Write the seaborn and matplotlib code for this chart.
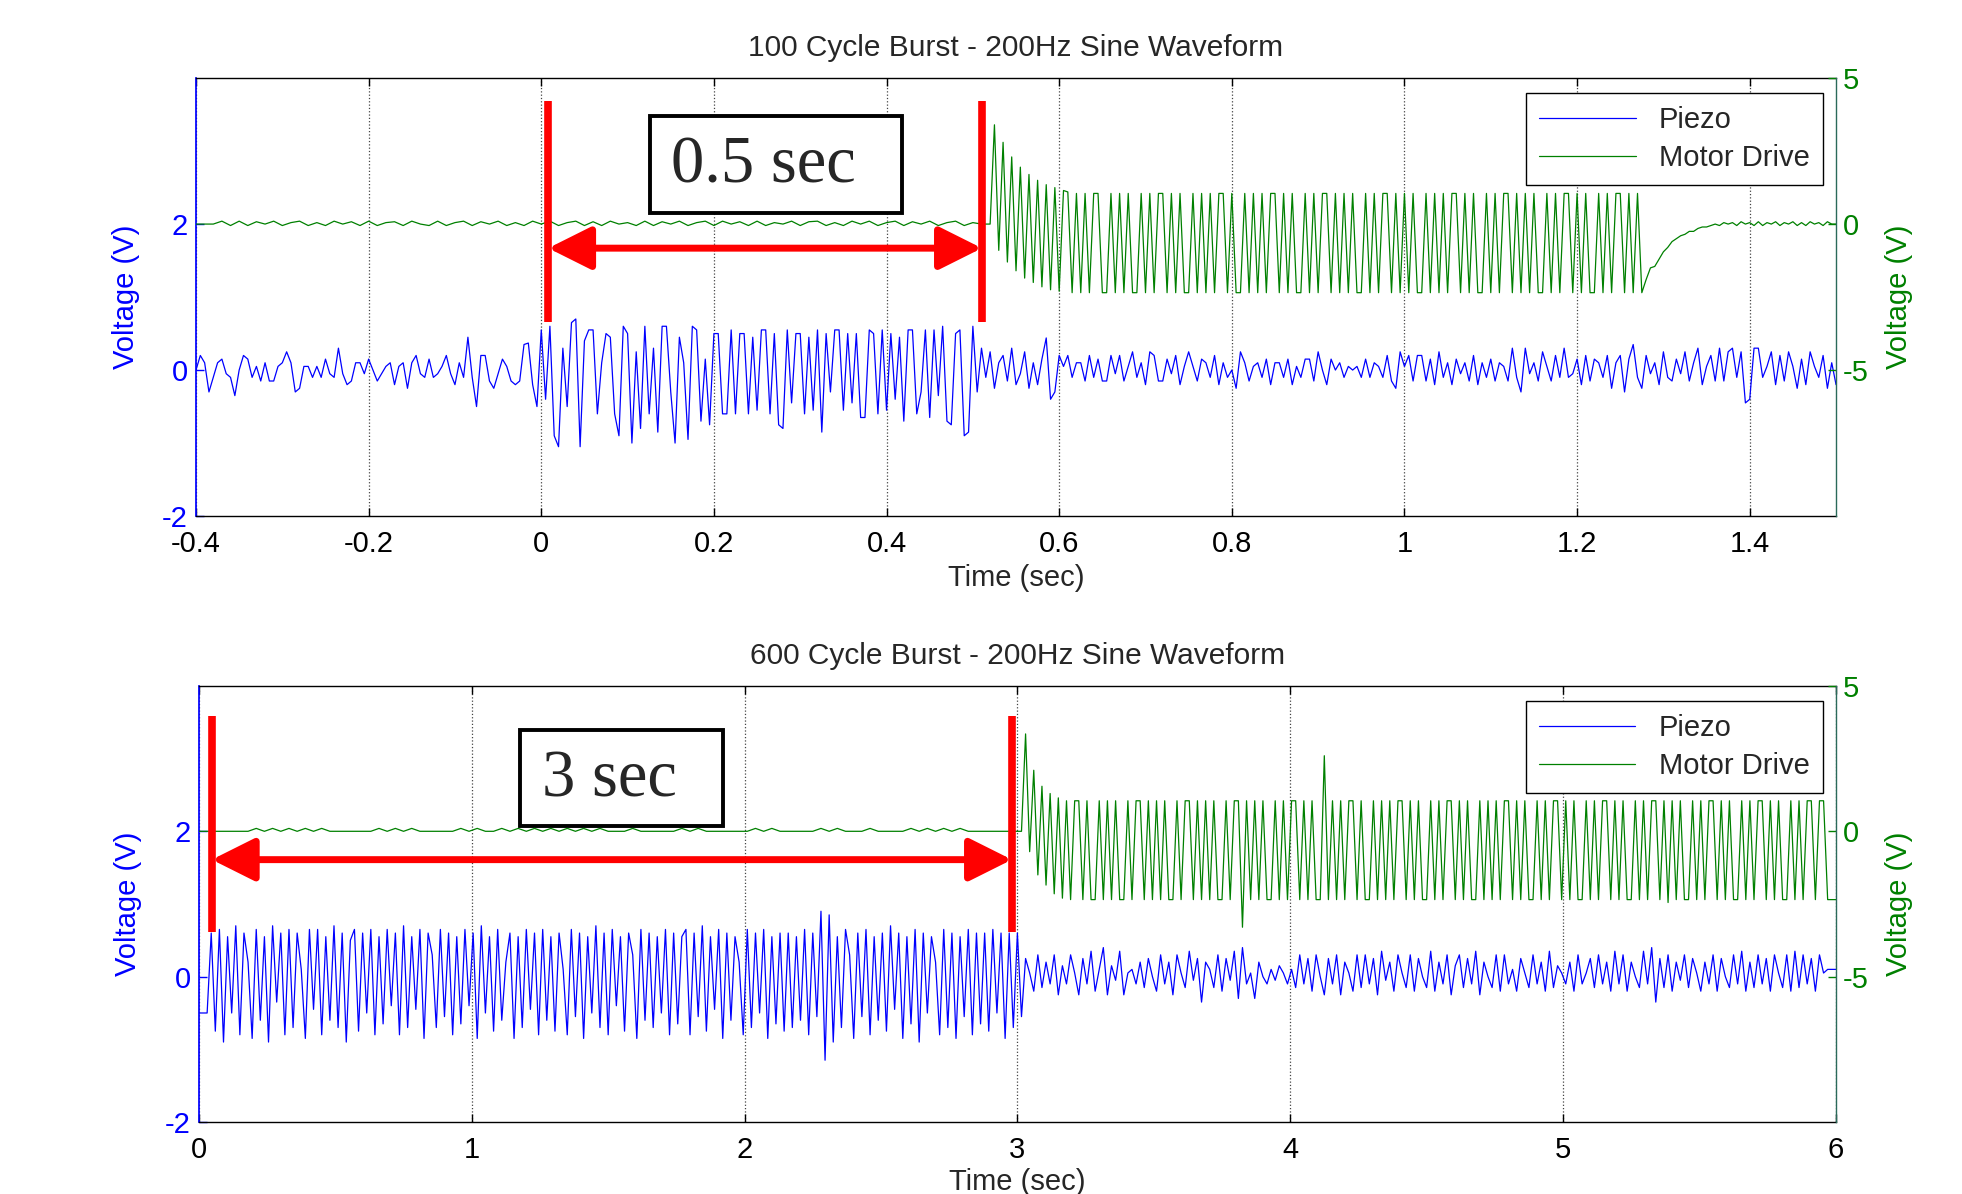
import numpy as np
import pandas as pd
import matplotlib
matplotlib.use("Agg")
import matplotlib.pyplot as plt
from matplotlib.lines import Line2D
from matplotlib.patches import Rectangle
import seaborn as sns

# ==========================================
# DATA
# ==========================================
# --- 100 cycle burst (top) ---
piezo_top_pre = [
    0.0, 0.2, 0.1, -0.3, -0.1, 0.1, 0.15, -0.05, -0.1, -0.35,
    0.0, 0.2, 0.15, -0.1, 0.05, -0.15, 0.1, -0.15, -0.15, 0.05,
    0.1, 0.25, 0.1, -0.3, -0.25, 0.05, 0.05, -0.1, 0.05, -0.1,
    0.15, -0.05, -0.1, 0.3, -0.05, -0.2, -0.15, 0.1, 0.1, -0.05,
    0.15, 0.0, -0.15, -0.05, 0.05, 0.1, -0.2, 0.05, 0.1, -0.25,
    0.1, 0.2, -0.05, -0.1, 0.15, -0.1, -0.05, 0.05, 0.2, -0.05,
    -0.2, 0.1, -0.1, 0.45, -0.1, -0.5, 0.2, 0.2, -0.15, -0.25,
    -0.05, 0.15, 0.05, -0.15, -0.2, -0.15, 0.35, 0.37, -0.2, -0.5]
piezo_top_burst = [
    0.55, -0.4, 0.6, -0.9, -1.05, 0.3, -0.5, 0.65, 0.7, -1.05,
    0.4, 0.55, 0.55, -0.6, 0.1, 0.5, 0.45, -0.6, -0.9, 0.6,
    0.5, -1.0, 0.25, -0.8, 0.6, -0.6, 0.3, -0.85, 0.6, 0.6,
    -0.3, -1.0, 0.45, 0.1, -0.95, 0.6, 0.55, -0.7, 0.15, -0.75,
    0.5, 0.5, -0.6, -0.6, 0.55, -0.6, 0.5, 0.5, -0.6, 0.45,
    -0.55, 0.55, 0.55, -0.6, 0.5, -0.75, -0.8, 0.55, -0.45, 0.5,
    0.5, -0.6, 0.45, -0.55, 0.55, -0.85, 0.5, -0.3, 0.55, 0.55,
    -0.55, 0.5, -0.45, 0.5, -0.65, -0.65, 0.55, 0.5, -0.6, 0.55,
    -0.55, 0.5, -0.4, 0.45, -0.7, 0.55, 0.55, -0.6, -0.3, 0.55,
    -0.65, 0.55, -0.35, 0.6, -0.7, -0.75, 0.5, 0.55, -0.9, -0.85,
    0.6, -0.3]
piezo_top_post = [
    0.3, -0.1, 0.25, -0.25, 0.1, 0.2, -0.15, 0.3, -0.2, -0.05,
    0.25, -0.25, 0.1, -0.2, 0.15, 0.44, -0.4, -0.3, 0.2, 0.05,
    0.2, -0.1, 0.1, 0.1, -0.15, 0.2, -0.1, 0.15, -0.15, -0.15,
    0.2, -0.05, 0.2, -0.15, 0.05, 0.25, -0.1, 0.1, -0.2, 0.25,
    0.2, -0.15, -0.15, 0.15, -0.05, 0.2, -0.2, 0.05, 0.25, 0.05,
    -0.15, 0.15, 0.1, -0.1, 0.2, -0.2, 0.1, -0.1, 0.0, -0.25,
    0.25, 0.1, -0.15, 0.05, 0.1, -0.1, 0.15, -0.2, 0.1, 0.1,
    -0.1, 0.15, -0.2, 0.05, -0.1, 0.15, 0.15, -0.15, 0.25, 0.0,
    -0.2, 0.15, 0.0, 0.1, -0.1, 0.05, 0.0, 0.05, -0.1, 0.15,
    -0.1, 0.1, 0.05, -0.1, 0.2, -0.15, -0.25, 0.25, 0.05, 0.2,
    -0.15, 0.2, 0.2, -0.15, 0.15, -0.2, 0.25, -0.1, 0.1, -0.2,
    0.15, -0.05, 0.1, -0.15, 0.2, -0.2, 0.1, -0.1, 0.15, -0.15,
    0.1, 0.05, -0.15, 0.3, -0.1, -0.3, 0.3, -0.05, 0.1, -0.15,
    0.25, 0.05, -0.15, 0.2, -0.1, 0.3, -0.1, -0.05, 0.15, -0.2,
    0.2, -0.15, 0.15, 0.1, -0.1, 0.2, -0.25, 0.1, 0.2, -0.3,
    0.15, 0.35, -0.1, -0.25, 0.2, -0.05, 0.1, -0.2, 0.25, -0.1,
    -0.15, 0.15, -0.05, 0.25, -0.15, 0.1, 0.3, -0.2, 0.05, 0.2,
    -0.15, 0.3, -0.15, 0.25, 0.3, -0.1, 0.25, -0.45, -0.4, 0.3,
    0.3, -0.1, 0.05, 0.25, -0.2, 0.2, -0.15, 0.25, 0.05, -0.25,
    0.15, -0.2, 0.25, 0.05, -0.1, 0.2, -0.25, 0.1, -0.2]

motor_top_idle = [
    0.0, 0.0, 0.0, 0.1, -0.05, 0.1, -0.05, 0.08, 0.0, 0.1,
    -0.05, 0.05, 0.1, -0.05, 0.05, -0.05, 0.1, 0.0, 0.08, -0.05,
    0.1, -0.05, 0.05, 0.08, -0.05, 0.1, 0.0, -0.05, 0.1, -0.05,
    0.05, 0.1, -0.05, 0.08, 0.0, 0.1, -0.05, 0.05, -0.05, 0.1,
    0.0, 0.1, -0.05, 0.05, 0.1, -0.05, 0.08, -0.05, 0.1, 0.0,
    0.05, -0.05, 0.1, -0.05, 0.08, 0.0, 0.1, -0.05, 0.05, 0.1,
    -0.05, 0.1, 0.0, 0.08, -0.05, 0.1, -0.05, 0.05, 0.0, 0.1,
    -0.05, 0.08, 0.1, -0.05, 0.05, -0.05, 0.1, 0.0, 0.1, -0.05,
    0.05, 0.1, -0.05, 0.08, 0.0, 0.1, -0.05, 0.05, 0.1, -0.05,
    0.05, 0.0]
motor_top_burst = [
    0.0, 3.4, -0.9, 2.8, -1.3, 2.3, -1.6, 1.95, -1.85, 1.7,
    -2.0, 1.5, -2.15, 1.35, -2.25, 1.25, -2.3, 1.15, 1.1, -2.35,
    1.05, -2.35, 1.05, -2.35, 1.05, 1.05, -2.35, -2.35, 1.05, -2.35,
    1.05, -2.35, 1.05, -2.35, -2.35, 1.05, -2.35, 1.05, -2.35, 1.05,
    1.05, -2.35, 1.05, -2.35, 1.05, -2.35, -2.35, 1.05, -2.35, 1.05,
    -2.35, 1.05, -2.35, 1.05, 1.05, -2.35, 1.05, -2.35, -2.35, 1.05,
    -2.35, 1.05, -2.35, 1.05, -2.35, 1.05, 1.05, -2.35, 1.05, -2.35,
    1.05, -2.35, -2.35, 1.05, -2.35, 1.05, -2.35, 1.05, 1.05, -2.35,
    1.05, -2.35, 1.05, -2.35, 1.05, -2.35, -2.35, 1.05, -2.35, 1.05,
    -2.35, 1.05, 1.05, -2.35, 1.05, -2.35, 1.05, -2.35, 1.05, -2.35,
    -2.35, 1.05, -2.35, 1.05, -2.35, 1.05, -2.35, 1.05, 1.05, -2.35,
    1.05, -2.35, 1.05, -2.35, -2.35, 1.05, -2.35, 1.05, -2.35, 1.05,
    1.05, -2.35, 1.05, -2.35, 1.05, -2.35, 1.05, -2.35, -2.35, 1.05,
    -2.35, 1.05, -2.35, 1.05, 1.05, -2.35, 1.05, -2.35, 1.05, -2.35,
    -2.35, 1.05, -2.35, 1.05, -2.35, 1.05, 1.05, -2.35, 1.05, -2.35,
    1.05, -2.35]
motor_top_tail = [
    -1.9, -1.5, -1.45, -1.2, -0.95, -0.8, -0.6, -0.5, -0.4, -0.35,
    -0.25, -0.25, -0.15, -0.1, -0.1, -0.05, 0.0, -0.05, 0.05, 0.0,
    0.05, -0.05, 0.08, 0.0, 0.05, -0.05, 0.08, -0.05, 0.05, 0.0,
    0.08, -0.05, 0.05, 0.0, 0.08, -0.05, 0.05, -0.05, 0.08, 0.0,
    0.05, -0.05, 0.08, 0.0, 0.0]

# --- 600 cycle burst (bottom) ---
piezo_bot_pre = [-0.5, -0.5, -0.5]
piezo_bot_burst = [
    0.6, -0.75, 0.65, -0.9, 0.55, -0.5, 0.7, -0.8, 0.6, 0.2,
    -0.85, 0.65, -0.6, 0.55, -0.9, 0.7, -0.35, 0.6, -0.8, 0.65,
    -0.7, 0.6, 0.1, -0.85, 0.65, -0.45, 0.65, -0.8, 0.55, -0.6,
    0.7, -0.7, 0.6, -0.9, 0.5, 0.65, -0.75, 0.6, -0.5, 0.65,
    -0.8, 0.55, -0.65, 0.65, -0.4, 0.6, -0.8, 0.7, -0.7, 0.55,
    -0.45, 0.65, -0.85, 0.6, 0.3, -0.7, 0.65, -0.55, 0.6, -0.8,
    0.55, -0.65, 0.65, -0.4, 0.6, -0.85, 0.7, -0.5, 0.55, -0.75,
    0.65, -0.6, 0.2, 0.6, -0.85, 0.55, -0.7, 0.65, -0.45, 0.6,
    -0.8, 0.65, -0.6, 0.55, -0.75, 0.6, 0.1, -0.8, 0.65, -0.55,
    0.6, -0.85, 0.55, -0.5, 0.7, -0.7, 0.6, -0.8, 0.65, -0.4,
    0.55, -0.75, 0.6, 0.3, -0.85, 0.65, -0.6, 0.6, -0.7, 0.55,
    -0.5, 0.65, -0.8, 0.6, -0.65, 0.55, 0.65, -0.8, 0.6, -0.55,
    0.7, -0.75, 0.55, -0.45, 0.65, -0.85, 0.6, -0.6, 0.55, 0.2,
    -0.8, 0.65, -0.7, 0.6, -0.5, 0.65, -0.85, 0.55, -0.65, 0.6,
    -0.75, 0.6, -0.7, 0.55, -0.6, 0.65, -0.8, 0.6, -0.55, 0.9,
    -1.15, 0.85, -0.9, 0.55, -0.7, 0.65, 0.3, -0.85, 0.6, -0.55,
    0.65, -0.8, 0.55, -0.6, 0.6, -0.75, 0.7, -0.45, 0.6, -0.85,
    0.55, -0.65, 0.65, -0.9, 0.6, -0.5, 0.55, 0.2, -0.8, 0.65,
    -0.7, 0.6, -0.85, 0.55, -0.55, 0.65, -0.8, 0.6, -0.65, 0.6,
    -0.75, 0.65, -0.5, 0.6, -0.85, 0.6, -0.7, 0.6]
piezo_bot_post = [
    -0.55, 0.25, 0.05, -0.2, 0.3, -0.15, 0.2, -0.1, 0.3, -0.25,
    0.15, -0.1, 0.3, 0.05, -0.25, 0.25, -0.1, 0.35, -0.2, 0.1,
    0.4, -0.25, 0.15, -0.05, 0.35, -0.25, 0.05, 0.1, -0.1, 0.2,
    -0.15, 0.25, 0.0, -0.2, 0.3, -0.1, 0.2, -0.25, 0.3, 0.05,
    -0.15, 0.35, -0.05, 0.25, -0.35, 0.2, 0.1, -0.15, 0.3, -0.2,
    0.25, -0.05, 0.35, -0.3, 0.4, -0.1, 0.05, -0.3, 0.2, 0.0,
    -0.1, 0.1, -0.05, 0.15, 0.05, -0.1, 0.1, -0.15, 0.3, -0.1,
    0.25, -0.2, 0.3, 0.0, -0.25, 0.25, -0.1, 0.3, -0.25, 0.2,
    0.05, -0.2, 0.3, -0.15, 0.3, -0.1, 0.25, -0.25, 0.35, -0.05,
    0.2, -0.2, 0.3, 0.05, -0.15, 0.3, -0.2, 0.25, 0.0, -0.15,
    0.35, -0.2, 0.2, -0.1, 0.3, -0.25, 0.15, 0.3, -0.15, 0.25,
    -0.1, 0.35, -0.25, 0.2, 0.0, -0.15, 0.3, -0.2, 0.3, -0.1,
    0.1, -0.2, 0.25, 0.05, -0.15, 0.3, -0.1, 0.2, -0.2, 0.35,
    -0.15, 0.15, 0.05, -0.1, 0.2, -0.2, 0.3, -0.1, 0.05, 0.25,
    -0.15, 0.3, -0.1, 0.2, -0.2, 0.35, -0.1, 0.3, -0.2, 0.2,
    0.0, -0.15, 0.35, -0.1, 0.4, -0.35, 0.25, -0.15, 0.3, -0.2,
    0.2, -0.05, 0.3, -0.15, 0.25, 0.05, -0.2, 0.2, -0.1, 0.3,
    -0.2, 0.25, 0.0, -0.15, 0.3, -0.1, 0.35, -0.2, 0.2, -0.15,
    0.3, -0.1, 0.25, -0.2, 0.3, 0.05, -0.15, 0.3, -0.2, 0.35,
    -0.15, 0.3, -0.1, 0.25, -0.2, 0.3, 0.05, 0.1, 0.1, 0.1]

motor_bot_idle = [
    0.0, 0.0, 0.0, 0.0, 0.0, 0.0, 0.0, 0.1, 0.0, 0.1,
    0.0, 0.1, 0.0, 0.1, 0.0, 0.1, 0.0, 0.0, 0.0, 0.0,
    0.0, 0.0, 0.1, 0.0, 0.1, 0.0, 0.1, 0.0, 0.0, 0.0,
    0.0, 0.0, 0.1, 0.0, 0.1, 0.0, 0.0, 0.1, 0.0, 0.1,
    0.0, 0.1, 0.0, 0.1, 0.0, 0.1, 0.0, 0.1, 0.0, 0.1,
    0.0, 0.0, 0.0, 0.1, 0.0, 0.0, 0.0, 0.0, 0.0, 0.1,
    0.0, 0.1, 0.0, 0.0, 0.0, 0.0, 0.0, 0.0, 0.1, 0.0,
    0.1, 0.0, 0.0, 0.0, 0.0, 0.0, 0.1, 0.0, 0.1, 0.0,
    0.0, 0.0, 0.1, 0.0, 0.0, 0.0, 0.0, 0.1, 0.0, 0.1,
    0.0, 0.1, 0.0, 0.1, 0.0, 0.0, 0.0, 0.0, 0.0, 0.0,
    0.0]
motor_bot_burst = [
    0.0, 3.35, -0.7, 2.1, -1.5, 1.55, -1.85, 1.3, -2.15, 1.15,
    -2.3, 1.05, -2.35, 1.05, 1.05, -2.35, 1.05, -2.35, -2.35, 1.05,
    -2.35, 1.05, -2.35, 1.05, -2.35, -2.35, 1.05, -2.35, 1.05, 1.05,
    -2.35, 1.05, -2.35, 1.05, -2.35, 1.05, -2.35, -2.35, 1.05, -2.35,
    1.05, 1.05, -2.35, 1.05, -2.35, 1.05, -2.35, 1.05, -2.35, -2.35,
    1.05, -2.35, 1.05, 1.05, -3.3, 1.05, -2.35, 1.05, -2.35, 1.05,
    -2.35, -2.35, 1.05, -2.35, 1.05, -2.35, 1.05, 1.05, -2.35, 1.05,
    -2.35, 1.05, -2.35, -2.35, 2.6, -2.35, 1.05, -2.35, 1.05, -2.35,
    1.05, 1.05, -2.35, 1.05, -2.35, -2.35, 1.05, -2.35, 1.05, -2.35,
    1.05, -2.35, 1.05, 1.05, -2.35, 1.05, -2.35, 1.05, -2.35, -2.35,
    1.05, -2.35, 1.05, -2.35, 1.05, 1.05, -2.35, 1.05, -2.35, 1.05,
    -2.35, -2.35, 1.05, -2.35, 1.05, -2.35, 1.05, -2.35, 1.05, 1.05,
    -2.35, 1.05, -2.35, 1.05, -2.35, -2.35, 1.05, -2.35, 1.05, -2.35,
    1.05, 1.05, -2.35, 1.05, -2.35, 1.05, -2.35, -2.35, 1.05, -2.35,
    1.05, -2.35, 1.05, 1.05, -2.35, 1.05, -2.35, 1.05, -2.35, -2.35,
    1.05, -2.35, 1.05, -2.35, 1.05, 1.05, -2.35, 1.05, -2.45, 1.05,
    -2.35, 1.05, -2.35, -2.35, 1.05, -2.35, 1.05, -2.35, 1.05, 1.05,
    -2.35, 1.05, -2.35, 1.05, -2.35, -2.35, 1.05, -2.35, 1.05, -2.35,
    1.05, 1.05, -2.35, 1.05, -2.35, 1.05, -2.35, -2.35, 1.05, -2.35,
    1.05, -2.35, 1.05, 1.05, -2.35, 1.05, 1.05, -2.35, -2.35, -2.35]

top_ticks = [-0.4, -0.2, 0, 0.2, 0.4, 0.6, 0.8, 1, 1.2, 1.4]
top_tick_labels = ['-0.4', '-0.2', '0', '0.2', '0.4', '0.6', '0.8', '1', '1.2', '1.4']
bot_ticks = [0, 1, 2, 3, 4, 5, 6]
bot_tick_labels = ['0', '1', '2', '3', '4', '5', '6']

# sample times (fixed sampling within each record segment)
piezo_top = pd.DataFrame({
    't': np.concatenate([np.linspace(-0.4, -0.005, len(piezo_top_pre)),
                         np.linspace(0.0, 0.505, len(piezo_top_burst)),
                         np.linspace(0.51, 1.5, len(piezo_top_post))]),
    'v': piezo_top_pre + piezo_top_burst + piezo_top_post})
motor_top = pd.DataFrame({
    't': np.concatenate([np.linspace(-0.4, 0.51, len(motor_top_idle)),
                         np.linspace(0.52, 1.275, len(motor_top_burst)),
                         np.linspace(1.28, 1.5, len(motor_top_tail))]),
    'v': motor_top_idle + motor_top_burst + motor_top_tail})
piezo_bot = pd.DataFrame({
    't': np.concatenate([np.linspace(0.0, 0.03, len(piezo_bot_pre)),
                         np.linspace(0.045, 3.0, len(piezo_bot_burst)),
                         np.linspace(3.015, 6.0, len(piezo_bot_post))]),
    'v': piezo_bot_pre + piezo_bot_burst + piezo_bot_post})
motor_bot = pd.DataFrame({
    't': np.concatenate([np.linspace(0.0, 3.0, len(motor_bot_idle)),
                         np.linspace(3.015, 6.0, len(motor_bot_burst))]),
    'v': motor_bot_idle + motor_bot_burst})

# ==========================================
# STYLE
# ==========================================
sns.set_theme(style="white")
plt.rcParams['font.family'] = ['Liberation Sans', 'DejaVu Sans']
plt.rcParams['axes.unicode_minus'] = False

BLUE = '#0000ff'
GREEN = '#008000'
RIGHT_SPINE = '#2a6a5a'
FS = 21


def draw_panel(ax, piezo, motor, xlim, ticks, tick_labels, title,
               bar_x, bar_y, arrow_y, box, text_xy, text, ylab_x, xlab_y):
    ax2 = ax.twinx()
    sns.lineplot(data=piezo, x='t', y='v', ax=ax, color=BLUE, lw=0.9,
                 estimator=None, sort=False)
    sns.lineplot(data=motor, x='t', y='v', ax=ax2, color=GREEN, lw=0.9,
                 estimator=None, sort=False)
    h_p, h_m = ax.lines[0], ax2.lines[0]

    ax.set_xlim(xlim)
    ax.set_ylim(-2, 4)
    ax2.set_ylim(-10, 5)
    ax.set_xticks(ticks)
    ax.set_xticklabels(tick_labels)
    ax.set_yticks([-2, 0, 2])
    ax2.set_yticks([-5, 0, 5])

    ax.grid(axis='x', linestyle=':', color='#444444', lw=0.9)
    ax.grid(axis='y', visible=False)

    for s in ['top', 'bottom']:
        ax.spines[s].set_color('black')
        ax.spines[s].set_linewidth(1.0)
    ax.spines['left'].set_color(BLUE)
    ax.spines['right'].set_visible(False)
    for s in ['top', 'bottom', 'left']:
        ax2.spines[s].set_visible(False)
    ax2.spines['right'].set_color(RIGHT_SPINE)
    ax2.spines['right'].set_linewidth(1.0)

    ax.tick_params(axis='x', direction='in', top=True, bottom=True, length=6,
                   width=1, color='black', labelcolor='black', labelsize=FS, pad=10)
    ax.tick_params(axis='y', direction='in', left=True, right=False, length=6,
                   width=1, color=BLUE, labelcolor=BLUE, labelsize=FS, pad=6)
    ax2.tick_params(axis='y', direction='in', right=True, length=6, width=1,
                    color=GREEN, labelcolor=GREEN, labelsize=FS, pad=5)

    ax.set_title(title, fontsize=21.5, pad=16)
    ax.set_xlabel('Time (sec)', fontsize=FS)
    ax.xaxis.set_label_coords(0.5, xlab_y)
    ax.set_ylabel('Voltage (V)', fontsize=FS, color=BLUE)
    ax.yaxis.set_label_coords(ylab_x[0], 0.5)
    ax2.set_ylabel('Voltage (V)', fontsize=FS, color=GREEN)
    ax2.yaxis.set_label_coords(ylab_x[1], 0.5)

    # red markers for the burst window, drawn over both traces
    for bx in bar_x:
        ax2.add_artist(Line2D([bx, bx], bar_y, color='red', lw=5.5,
                              solid_capstyle='butt', transform=ax.transData))
    ax2.annotate('', xy=(bar_x[1], arrow_y), xytext=(bar_x[0], arrow_y),
                 xycoords=ax.transData, textcoords=ax.transData,
                 arrowprops=dict(arrowstyle='<|-|>,head_length=1.2,head_width=0.6',
                                 color='red', lw=5, mutation_scale=22,
                                 shrinkA=0, shrinkB=0))
    ax2.add_artist(Rectangle((box[0], box[1]), box[2] - box[0], box[3] - box[1],
                             transform=ax.transData, fc='white', ec='black', lw=2.8))
    ax2.text(text_xy[0], text_xy[1], text, transform=ax.transData,
             ha='center', va='center', fontsize=48,
             family=['Liberation Serif', 'DejaVu Serif'])

    leg = ax2.legend([h_p, h_m], ['Piezo', 'Motor Drive'], loc='upper right',
                     bbox_to_anchor=(0.992, 0.966), frameon=True, fancybox=False,
                     edgecolor='black', framealpha=1, fontsize=FS,
                     handlelength=3.3, borderpad=0.45, labelspacing=0.35,
                     handletextpad=0.8, borderaxespad=0)
    leg.get_frame().set_linewidth(1.0)
    return ax2


fig = plt.figure(figsize=(19.62, 11.94), dpi=100)
ax_top = fig.add_axes([0.0999, 0.5678, 0.8359, 0.3668])
ax_bot = fig.add_axes([0.1014, 0.0603, 0.8343, 0.3652])

draw_panel(ax_top, piezo_top, motor_top, (-0.4, 1.5), top_ticks, top_tick_labels,
           '100 Cycle Burst - 200Hz Sine Waveform',
           bar_x=(0.008, 0.5105), bar_y=(3.68, 0.66), arrow_y=1.67,
           box=(0.126, 2.15, 0.418, 3.48), text_xy=(0.257, 2.80), text='0.5 sec',
           ylab_x=(-0.034, 1.03), xlab_y=-0.11)
draw_panel(ax_bot, piezo_bot, motor_bot, (0, 6), bot_ticks, bot_tick_labels,
           '600 Cycle Burst - 200Hz Sine Waveform',
           bar_x=(0.047, 2.98), bar_y=(3.59, 0.62), arrow_y=1.61,
           box=(1.178, 2.07, 1.92, 3.40), text_xy=(1.505, 2.70), text='3 sec',
           ylab_x=(-0.035, 1.03), xlab_y=-0.105)

fig.savefig('out.png', dpi=100, facecolor='white')
